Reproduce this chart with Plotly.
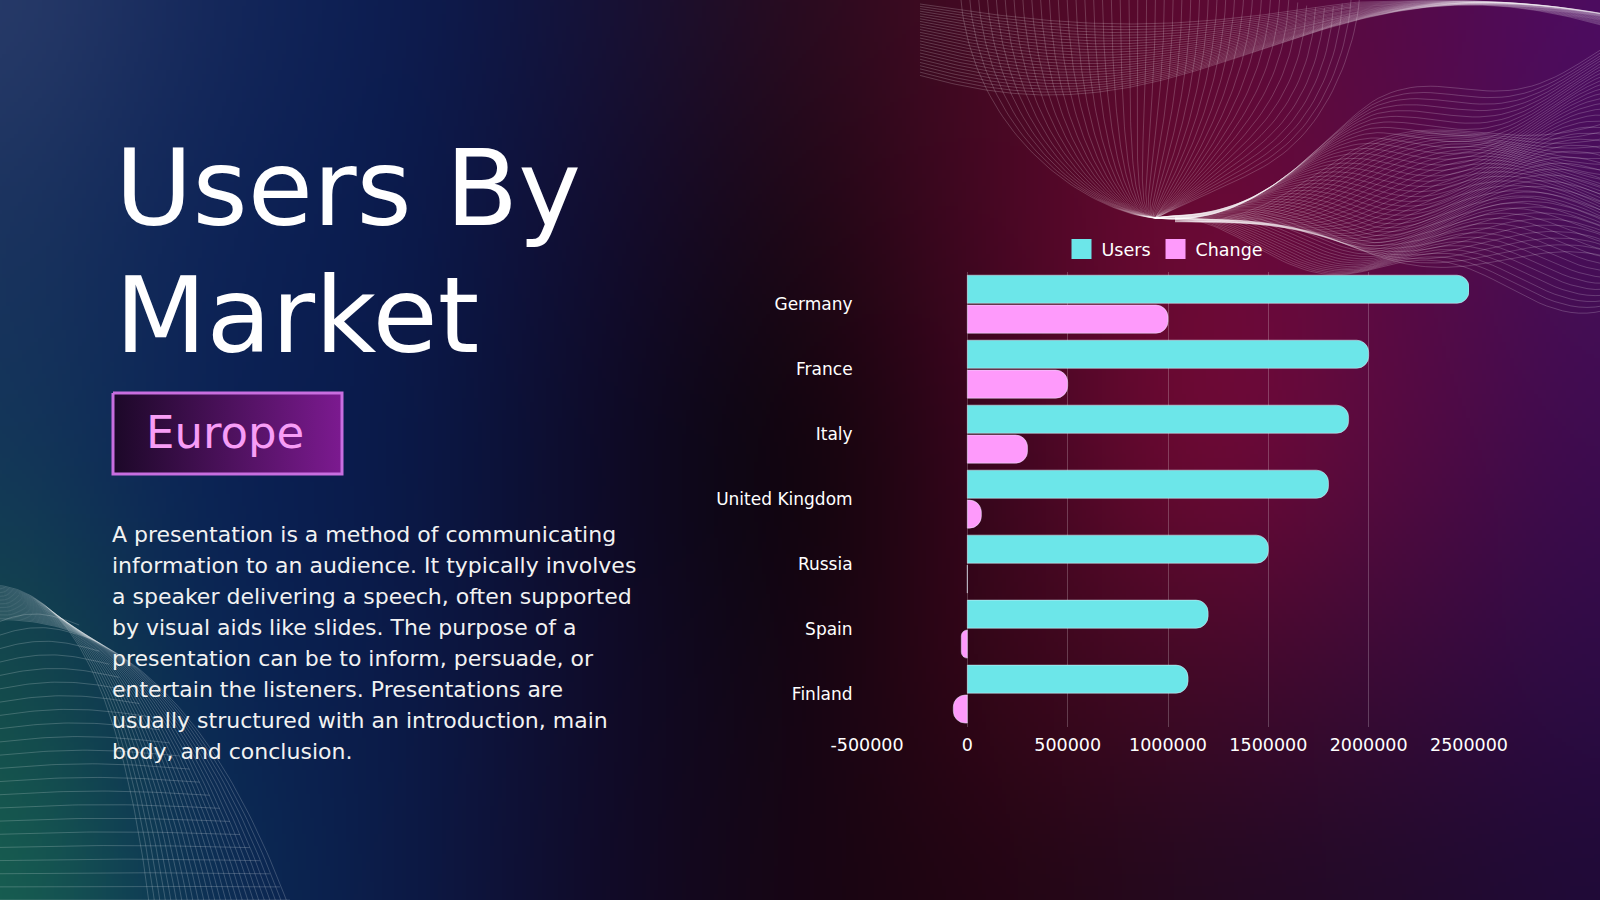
import base64
import struct
import zlib

import numpy as np
import plotly.graph_objects as go

# ---- chart data ----
markets = ["Germany", "France", "Italy", "United Kingdom", "Russia", "Spain", "Finland"]
users = [2500000, 2000000, 1900000, 1800000, 1500000, 1200000, 1100000]
change = [1000000, 500000, 300000, 70000, 0, -30000, -70000]
x_ticks = [-500000, 0, 500000, 1000000, 1500000, 2000000, 2500000]

title_lines = ["Users By", "Market"]
badge_text = "Europe"
body_lines = [
    "A presentation is a method of communicating",
    "information to an audience. It typically involves",
    "a speaker delivering a speech, often supported",
    "by visual aids like slides. The purpose of a",
    "presentation can be to inform, persuade, or",
    "entertain the listeners. Presentations are",
    "usually structured with an introduction, main",
    "body, and conclusion.",
]

W, H = 1600, 900
FONT = "DejaVu Sans"
CYAN = "#6ce6e9"
PINK = "#fe9afb"


# ---- background gradient, painted into a small png ----
def hexrgb(h):
    h = h.lstrip("#")
    return [int(h[i:i + 2], 16) for i in (0, 2, 4)]


bg_grid = [
    ["#2c3e6c", "#16295c", "#0b1d52", "#161238", "#2a0c1e", "#4a0a24", "#5c0a30", "#560a48", "#4c0c66"],
    ["#1c355f", "#0e2458", "#0a1b4e", "#120c30", "#1c0712", "#4a0624", "#720a36", "#5a0a44", "#44105e"],
    ["#14395a", "#0b2256", "#0a1a4a", "#0e0a28", "#0c0408", "#3c0620", "#7a0a36", "#560a40", "#3a0c52"],
    ["#155048", "#0a2656", "#0b1b4a", "#100b2a", "#120510", "#3a0618", "#460a28", "#3a0a38", "#2c0c48"],
    ["#1a6a50", "#0c2f58", "#0c1a48", "#110a28", "#170512", "#220512", "#200a20", "#1f0a2a", "#1e0a38"],
]


def make_background(w=400, h=225):
    g = np.array([[hexrgb(c) for c in row] for row in bg_grid], dtype=float)
    gy, gx = g.shape[0], g.shape[1]
    fy = np.linspace(0, gy - 1, h)
    fx = np.linspace(0, gx - 1, w)
    y0 = np.clip(np.floor(fy).astype(int), 0, gy - 2)
    x0 = np.clip(np.floor(fx).astype(int), 0, gx - 2)
    ty = (fy - y0)[:, None, None]
    tx = (fx - x0)[None, :, None]
    a = g[y0][:, x0]
    b = g[y0][:, x0 + 1]
    c = g[y0 + 1][:, x0]
    d = g[y0 + 1][:, x0 + 1]
    img = (a * (1 - tx) + b * tx) * (1 - ty) + (c * (1 - tx) + d * tx) * ty
    # soften the grid creases
    k = 15
    for _ in range(3):
        p = np.pad(img, ((k, k), (0, 0), (0, 0)), mode="edge")
        cs = np.cumsum(p, axis=0)
        cs = np.concatenate([np.zeros((1,) + cs.shape[1:]), cs], axis=0)
        img = (cs[2 * k + 1:] - cs[:-2 * k - 1]) / (2 * k + 1)
        p = np.pad(img, ((0, 0), (k, k), (0, 0)), mode="edge")
        cs = np.cumsum(p, axis=1)
        cs = np.concatenate([np.zeros((cs.shape[0], 1, 3)), cs], axis=1)
        img = (cs[:, 2 * k + 1:] - cs[:, :-2 * k - 1]) / (2 * k + 1)
    return np.clip(img, 0, 255).astype(np.uint8)


def png_uri(arr):
    h, w, _ = arr.shape
    raw = b"".join(b"\x00" + arr[y].tobytes() for y in range(h))

    def chunk(tag, data):
        out = struct.pack(">I", len(data)) + tag + data
        return out + struct.pack(">I", zlib.crc32(tag + data) & 0xFFFFFFFF)

    png = (b"\x89PNG\r\n\x1a\n"
           + chunk(b"IHDR", struct.pack(">IIBBBBB", w, h, 8, 2, 0, 0, 0))
           + chunk(b"IDAT", zlib.compress(raw, 9))
           + chunk(b"IEND", b""))
    return "data:image/png;base64," + base64.b64encode(png).decode()


# ---- decorative wire-mesh waves (pixel space of the slide) ----
def bezier(p0, p1, p2, p3, n=60):
    t = np.linspace(0, 1, n)[:, None]
    p0, p1, p2, p3 = (np.array(p, dtype=float) for p in (p0, p1, p2, p3))
    return (1 - t) ** 3 * p0 + 3 * (1 - t) ** 2 * t * p1 + 3 * (1 - t) * t ** 2 * p2 + t ** 3 * p3


def top_mesh():
    px, py = 1155, 218
    xs, ys = [], []
    # fan of lines falling from the top edge, squeezed through the pinch
    for s in np.linspace(0, 1, 46):
        x0 = 960 + 400 * s
        left = bezier((x0, -10), (x0 + 0.05 * (px - x0), 140),
                      (px - 60 + 80 * s, 214), (px, py), 60)
        right = bezier((px, py), (px + 90 - 20 * s, py + 4 - 12 * s),
                       (1400, 70 + 250 * s), (1620, 45 + 240 * s), 80)
        pts = np.vstack([left, right[1:]])
        ramp = np.clip((pts[:, 0] - px) / 220, 0, 1)
        pts[:, 1] += 24 * ramp * np.sin(2 * np.pi * (pts[:, 0] - px) / 300 + 5 * s)
        xs += list(pts[:, 0]) + [None]
        ys += list(pts[:, 1]) + [None]
    # second sheet crossing the first one in the lower right
    for s in np.linspace(0, 1, 30):
        pts = bezier((px + 20, py + 2), (1300, 250 - 40 * s),
                     (1430, 230 - 120 * s), (1620, 280 - 170 * s), 90)
        ramp = np.clip((pts[:, 0] - px) / 200, 0, 1)
        pts[:, 1] -= 20 * ramp * np.sin(2 * np.pi * (pts[:, 0] - px) / 360 + 4 * s)
        xs += list(pts[:, 0]) + [None]
        ys += list(pts[:, 1]) + [None]
    # crest ribbon running along the top
    X = np.linspace(920, 1620, 200)
    for s in np.linspace(0, 1, 26):
        y = (4 + 46 * s) + (20 + 25 * s) * np.sin(np.pi * (X - 920) / 420 + 0.6 * s) \
            + 30 * np.clip((X - 1350) / 270, 0, 1) * (1 - s)
        xs += list(X) + [None]
        ys += list(y) + [None]
    return xs, ys


def bottom_mesh():
    xs, ys = [], []
    t = np.linspace(0, 1, 80)[:, None]
    for s in np.linspace(0, 1, 26):
        p0 = np.array([-10, 585 + 35 * s])
        p1 = np.array([110 + 70 * s, 585 + 25 * s])
        p2 = np.array([150 + 140 * s, 910])
        pts = (1 - t) ** 2 * p0 + 2 * (1 - t) * t * p1 + t ** 2 * p2
        xs += list(pts[:, 0]) + [None]
        ys += list(pts[:, 1]) + [None]
    for yk in np.linspace(625, 900, 22):
        f = (yk - 600) / 300
        xr = 60 + 230 * f
        x = np.linspace(-10, xr, 40)
        y = yk - 12 * np.sin(np.pi * (x + 10) / (xr + 10)) * (1 - f)
        xs += list(x) + [None]
        ys += list(y) + [None]
    return xs, ys


fig = go.Figure()

tx, ty = top_mesh()
bx, by = bottom_mesh()
for mx, my in ((tx, ty), (bx, by)):
    fig.add_trace(go.Scatter(x=mx, y=my, mode="lines", xaxis="x", yaxis="y",
                             line=dict(color="rgba(255,255,255,0.28)", width=0.7),
                             hoverinfo="skip", showlegend=False))

# Europe badge with a horizontal gradient fill
fig.add_trace(go.Scatter(x=[113, 342, 342, 113, 113], y=[393, 393, 474, 474, 393],
                         xaxis="x", yaxis="y", mode="lines", fill="toself",
                         fillgradient=dict(type="horizontal",
                                           colorscale=[[0, "#1c0828"], [1, "#7c1a90"]]),
                         line=dict(color="#c86ee0", width=3),
                         hoverinfo="skip", showlegend=False))

# ---- the bar chart ----
fig.add_trace(go.Bar(y=markets, x=users, orientation="h", name="Users",
                     xaxis="x2", yaxis="y2", marker=dict(color=CYAN, cornerradius=12),
                     showlegend=False))
fig.add_trace(go.Bar(y=markets, x=change, orientation="h", name="Change",
                     xaxis="x2", yaxis="y2", marker=dict(color=PINK, cornerradius=12),
                     showlegend=False))
for name, col in (("Users", CYAN), ("Change", PINK)):
    fig.add_trace(go.Scatter(x=[None], y=[None], mode="markers", name=name,
                             xaxis="x2", yaxis="y2",
                             marker=dict(symbol="square", size=16, color=col,
                                         line=dict(color=col, width=4))))

annotations = []
for i, line in enumerate(title_lines):
    annotations.append(dict(text=line, x=113 / W, y=1 - (189 + 126 * i) / H,
                            xref="paper", yref="paper", xanchor="left", yanchor="middle",
                            showarrow=False, font=dict(family=FONT, size=106, color="#ffffff")))
annotations.append(dict(text=badge_text, x=144 / W, y=1 - 432 / H, xref="paper", yref="paper",
                        xanchor="left", yanchor="middle", showarrow=False,
                        font=dict(family=FONT, size=45, color="#f79df6")))
for i, line in enumerate(body_lines):
    annotations.append(dict(text=line, x=110 / W, y=1 - (534 + 31 * i) / H,
                            xref="paper", yref="paper", xanchor="left", yanchor="middle",
                            showarrow=False, font=dict(family=FONT, size=22, color="#f2f2f2")))

fig.update_layout(
    width=W, height=H,
    margin=dict(l=0, r=0, t=0, b=0, autoexpand=False),
    paper_bgcolor="#0a0a1a",
    plot_bgcolor="rgba(0,0,0,0)",
    images=[dict(source=png_uri(make_background()), xref="paper", yref="paper",
                 x=0, y=1, sizex=1, sizey=1, sizing="stretch",
                 xanchor="left", yanchor="top", layer="below")],
    xaxis=dict(domain=[0, 1], range=[0, W], visible=False, fixedrange=True),
    yaxis=dict(domain=[0, 1], range=[H, 0], visible=False, fixedrange=True),
    xaxis2=dict(domain=[867 / W, 1469 / W], anchor="y2", range=[-500000, 2500000],
                tickvals=x_ticks, ticktext=[str(v) for v in x_ticks],
                ticks="outside", ticklen=2, tickcolor="rgba(0,0,0,0)",
                showgrid=True, gridcolor="rgba(255,255,255,0.22)", gridwidth=1,
                zeroline=True, zerolinecolor="rgba(255,255,255,0.22)", zerolinewidth=1,
                showline=False, tickfont=dict(family=FONT, size=17.5, color="#ffffff")),
    yaxis2=dict(domain=[1 - 726.6 / H, 1 - 271.7 / H], anchor="x2", autorange="reversed",
                showgrid=False, showline=False, ticks="outside", ticklen=10,
                tickcolor="rgba(0,0,0,0)",
                tickfont=dict(family=FONT, size=17, color="#ffffff")),
    barmode="group", bargap=0.08, bargroupgap=0.06,
    legend=dict(orientation="h", x=1165 / W, xanchor="center", y=1 - 249 / H, yanchor="middle",
                bgcolor="rgba(0,0,0,0)", font=dict(family=FONT, size=17.5, color="#ffffff")),
    annotations=annotations,
    showlegend=True,
)

fig.write_html("out.html", config={"displayModeBar": False},
               post_script="document.body.style.margin='0';document.body.style.overflow='hidden';")
